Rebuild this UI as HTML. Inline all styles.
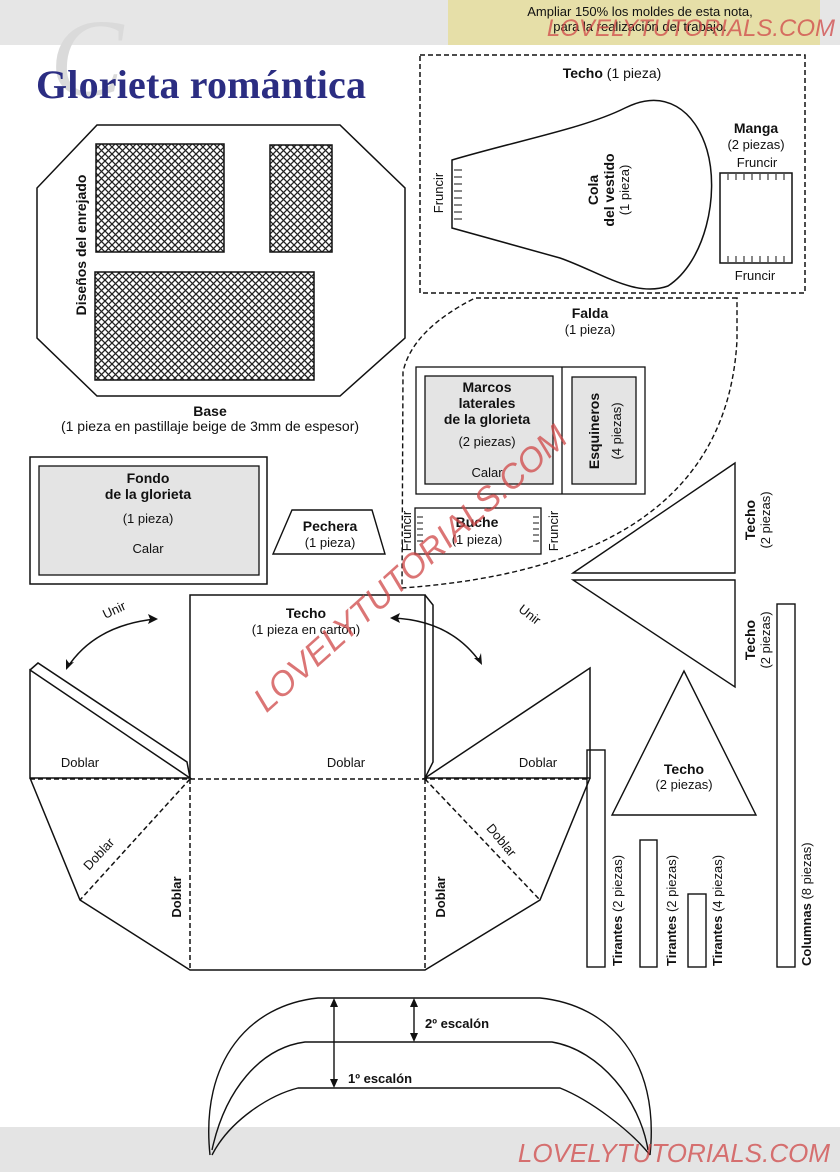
<!DOCTYPE html>
<html><head><meta charset="utf-8"><style>
html,body{margin:0;padding:0;background:#fff}
svg{display:block}
text{font-family:"Liberation Sans",Arial,sans-serif;fill:#111}
.b{font-weight:bold}
.wm{font-family:"Liberation Sans",sans-serif;font-style:italic;fill:#d04848;opacity:.75}
</style></head><body>
<svg width="840" height="1172" viewBox="0 0 840 1172" xmlns="http://www.w3.org/2000/svg">
<defs>
<pattern id="hx" width="7" height="7" patternUnits="userSpaceOnUse">
<rect width="7" height="7" fill="#fff"/>
<path d="M0,0L7,7M7,0L0,7" stroke="#222" stroke-width="1.3"/>
</pattern>
</defs>
<rect x="0" y="0" width="840" height="45" fill="#e6e6e6"/>
<rect x="448" y="0" width="372" height="45" fill="#e6dfa8"/>
<text x="640" y="16" font-size="13" text-anchor="middle">Ampliar 150% los moldes de esta nota,</text>
<text x="640" y="31" font-size="13" text-anchor="middle">para la realización del trabajo.</text>
<text x="835" y="36" font-size="24" text-anchor="end" class="wm">LOVELYTUTORIALS.COM</text>
<rect x="0" y="1127" width="840" height="45" fill="#e4e4e4"/>

<text x="50" y="95" font-size="110" style="fill:#dadada;font-family:'Liberation Serif',serif;font-style:italic">C</text>
<text x="36" y="98" font-size="40" class="b" style="font-family:'Liberation Serif',serif;fill:#2b2d82" textLength="330">Glorieta romántica</text>

<!-- Base -->
<polygon points="97,125 340,125 405,188 405,338 340,396 97,396 37,338 37,188" fill="none" stroke="#111" stroke-width="1.5"/>
<rect x="96" y="144" width="128" height="108" fill="url(#hx)" stroke="#111" stroke-width="1.5"/>
<rect x="270" y="145" width="62" height="107" fill="url(#hx)" stroke="#111" stroke-width="1.5"/>
<rect x="95" y="272" width="219" height="108" fill="url(#hx)" stroke="#111" stroke-width="1.5"/>
<text transform="translate(86,245) rotate(-90)" font-size="14" class="b" text-anchor="middle">Diseños del enrejado</text>
<text x="210" y="416" font-size="14" class="b" text-anchor="middle">Base</text>
<text x="210" y="431" font-size="14" text-anchor="middle">(1 pieza en pastillaje beige de 3mm de espesor)</text>

<!-- Top right dashed -->
<rect x="420" y="55" width="385" height="238" fill="none" stroke="#111" stroke-width="1.5" stroke-dasharray="5,3"/>
<text x="612" y="78" font-size="14" text-anchor="middle"><tspan class="b">Techo</tspan> (1 pieza)</text>
<path d="M452,160 C520,140 585,128 625,108 C665,88 695,110 707,150 C720,195 705,262 668,286 C635,298 600,272 560,258 L452,228 Z" fill="none" stroke="#111" stroke-width="1.5"/>
<path d="M454,170h8M454,177h8M454,184h8M454,191h8M454,198h8M454,205h8M454,212h8M454,219h8" stroke="#111"/>
<text transform="translate(443,193) rotate(-90)" font-size="13" text-anchor="middle">Fruncir</text>
<text transform="translate(598,190) rotate(-90)" font-size="14" class="b" text-anchor="middle">Cola</text>
<text transform="translate(614,190) rotate(-90)" font-size="14" class="b" text-anchor="middle">del vestido</text>
<text transform="translate(629,190) rotate(-90)" font-size="13" text-anchor="middle">(1 pieza)</text>
<rect x="720" y="173" width="72" height="90" fill="none" stroke="#111" stroke-width="1.5"/>
<path d="M728,174v6M736,174v6M744,174v6M752,174v6M760,174v6M768,174v6M776,174v6M784,174v6M728,256v6M736,256v6M744,256v6M752,256v6M760,256v6M768,256v6M776,256v6M784,256v6" stroke="#111"/>
<text x="756" y="133" font-size="14" class="b" text-anchor="middle">Manga</text>
<text x="756" y="149" font-size="13" text-anchor="middle">(2 piezas)</text>
<text x="757" y="167" font-size="13" text-anchor="middle">Fruncir</text>
<text x="755" y="280" font-size="13" text-anchor="middle">Fruncir</text>

<!-- Falda -->
<path d="M737,298 L475,298 Q412,330 403,372 L402,588 Q725,565 737,340 Z" fill="none" stroke="#111" stroke-width="1.4" stroke-dasharray="5,3"/>
<text x="590" y="318" font-size="14" class="b" text-anchor="middle">Falda</text>
<text x="590" y="334" font-size="13" text-anchor="middle">(1 pieza)</text>
<rect x="416" y="367" width="229" height="127" fill="#fff" stroke="#111" stroke-width="1.3"/>
<line x1="562" y1="367" x2="562" y2="494" stroke="#111" stroke-width="1.3"/>
<rect x="425" y="376" width="128" height="108" fill="#e4e4e4" stroke="#111" stroke-width="1.3"/>
<rect x="572" y="377" width="64" height="107" fill="#e4e4e4" stroke="#111" stroke-width="1.3"/>
<text x="487" y="392" font-size="14" class="b" text-anchor="middle">Marcos</text>
<text x="487" y="408" font-size="14" class="b" text-anchor="middle">laterales</text>
<text x="487" y="424" font-size="14" class="b" text-anchor="middle">de la glorieta</text>
<text x="487" y="446" font-size="13" text-anchor="middle">(2 piezas)</text>
<text x="487" y="477" font-size="13" text-anchor="middle">Calar</text>
<text transform="translate(599,431) rotate(-90)" font-size="14" class="b" text-anchor="middle">Esquineros</text>
<text transform="translate(621,431) rotate(-90)" font-size="13" text-anchor="middle">(4 piezas)</text>
<rect x="415" y="508" width="126" height="46" fill="#fff" stroke="#111" stroke-width="1.3"/>
<path d="M417,517h6M417,523h6M417,529h6M417,535h6M417,541h6M533,517h6M533,523h6M533,529h6M533,535h6M533,541h6" stroke="#111"/>
<text transform="translate(411,531) rotate(-90)" font-size="13" text-anchor="middle">Fruncir</text>
<text transform="translate(558,531) rotate(-90)" font-size="13" text-anchor="middle">Fruncir</text>
<text x="477" y="527" font-size="14" class="b" text-anchor="middle">Buche</text>
<text x="477" y="544" font-size="13" text-anchor="middle">(1 pieza)</text>

<!-- Fondo -->
<rect x="30" y="457" width="237" height="127" fill="#fff" stroke="#111" stroke-width="1.5"/>
<rect x="39" y="466" width="220" height="109" fill="#e4e4e4" stroke="#111" stroke-width="1.3"/>
<text x="148" y="483" font-size="14" class="b" text-anchor="middle">Fondo</text>
<text x="148" y="499" font-size="14" class="b" text-anchor="middle">de la glorieta</text>
<text x="148" y="523" font-size="13" text-anchor="middle">(1 pieza)</text>
<text x="148" y="553" font-size="13" text-anchor="middle">Calar</text>
<polygon points="273,554 385,554 372,510 292,510" fill="none" stroke="#111" stroke-width="1.4"/>
<text x="330" y="531" font-size="14" class="b" text-anchor="middle">Pechera</text>
<text x="330" y="547" font-size="13" text-anchor="middle">(1 pieza)</text>

<!-- right triangles -->
<polygon points="573,573 735,463 735,573" fill="none" stroke="#111" stroke-width="1.4"/>
<polygon points="573,580 735,580 735,687" fill="none" stroke="#111" stroke-width="1.4"/>
<text transform="translate(755,520) rotate(-90)" font-size="14" class="b" text-anchor="middle">Techo</text>
<text transform="translate(770,520) rotate(-90)" font-size="13" text-anchor="middle">(2 piezas)</text>
<text transform="translate(755,640) rotate(-90)" font-size="14" class="b" text-anchor="middle">Techo</text>
<text transform="translate(770,640) rotate(-90)" font-size="13" text-anchor="middle">(2 piezas)</text>
<polygon points="684,671 612,815 756,815" fill="none" stroke="#111" stroke-width="1.4"/>
<text x="684" y="774" font-size="14" class="b" text-anchor="middle">Techo</text>
<text x="684" y="789" font-size="13" text-anchor="middle">(2 piezas)</text>
<rect x="777" y="604" width="18" height="363" fill="none" stroke="#111" stroke-width="1.4"/>
<text transform="translate(811,966) rotate(-90)" font-size="13" ><tspan class="b">Columnas</tspan> (8 piezas)</text>
<rect x="587" y="750" width="18" height="217" fill="none" stroke="#111" stroke-width="1.4"/>
<rect x="640" y="840" width="17" height="127" fill="none" stroke="#111" stroke-width="1.4"/>
<rect x="688" y="894" width="18" height="73" fill="none" stroke="#111" stroke-width="1.4"/>
<text transform="translate(622,966) rotate(-90)" font-size="13"><tspan class="b">Tirantes</tspan> (2 piezas)</text>
<text transform="translate(676,966) rotate(-90)" font-size="13"><tspan class="b">Tirantes</tspan> (2 piezas)</text>
<text transform="translate(722,966) rotate(-90)" font-size="13"><tspan class="b">Tirantes</tspan> (4 piezas)</text>

<!-- Roof net -->
<g fill="none" stroke="#111" stroke-width="1.5">
<polyline points="190,778 190,595 425,595 425,778"/>
<polygon points="30,670 190,778 30,778"/>
<polyline points="30,670 38,663 187,762 190,778"/>
<polyline points="425,595 433,605 433,762 425,778"/>
<polygon points="425,778 590,668 590,778"/>
<polyline points="30,778 80,900 190,970 425,970 540,900 590,778"/>
</g>
<g fill="none" stroke="#111" stroke-width="1.5" stroke-dasharray="5,3">
<line x1="30" y1="779" x2="590" y2="779"/>
<line x1="190" y1="779" x2="190" y2="970"/>
<line x1="425" y1="779" x2="425" y2="970"/>
<line x1="190" y1="779" x2="80" y2="900"/>
<line x1="425" y1="779" x2="540" y2="900"/>
</g>
<text x="306" y="618" font-size="14" class="b" text-anchor="middle">Techo</text>
<text x="306" y="634" font-size="13" text-anchor="middle">(1 pieza en cartón)</text>
<text x="80" y="767" font-size="13" text-anchor="middle">Doblar</text>
<text x="346" y="767" font-size="13" text-anchor="middle">Doblar</text>
<text x="538" y="767" font-size="13" text-anchor="middle">Doblar</text>
<text transform="translate(102,857) rotate(-47)" font-size="13" text-anchor="middle">Doblar</text>
<text transform="translate(498,843) rotate(50)" font-size="13" text-anchor="middle">Doblar</text>
<text transform="translate(181,897) rotate(-90)" font-size="13" class="b" text-anchor="middle">Doblar</text>
<text transform="translate(445,897) rotate(-90)" font-size="13" class="b" text-anchor="middle">Doblar</text>
<path d="M67,668 Q95,625 156,619" fill="none" stroke="#111" stroke-width="1.5"/>
<path d="M158,619 l-10,-5 l2,5 l-2,5 z M66,670 l0,-11 l3,4 l5,-1 z" fill="#111"/>
<path d="M392,618 Q450,620 480,662" fill="none" stroke="#111" stroke-width="1.5"/>
<path d="M390,618 l10,-5 l-2,5 l2,5 z M482,665 l-8,-7 l5,0 l2,-5 z" fill="#111"/>
<text transform="translate(116,614) rotate(-25)" font-size="13" text-anchor="middle">Unir</text>
<text transform="translate(527,618) rotate(38)" font-size="13" text-anchor="middle">Unir</text>

<!-- Escalon -->
<g fill="none" stroke="#111" stroke-width="1.4">
<path d="M210,1155 C200,1060 250,1005 318,998 L540,998 C610,1005 660,1060 650,1155"/>
<path d="M212,1150 C225,1090 260,1048 305,1042 L552,1042 C600,1050 640,1100 648,1150"/>
<path d="M212,1155 C230,1120 270,1095 298,1088 L560,1088 C590,1100 630,1130 650,1155"/>
<line x1="334" y1="1003" x2="334" y2="1083"/>
<line x1="414" y1="1003" x2="414" y2="1037"/>
</g>
<path d="M334,998 l-4,9 h8 z M334,1088 l-4,-9 h8 z M414,998 l-4,9 h8 z M414,1042 l-4,-9 h8 z" fill="#111"/>
<text x="425" y="1028" font-size="13" class="b">2º escalón</text>
<text x="348" y="1083" font-size="13" class="b">1º escalón</text>

<text x="830" y="1162" font-size="26" text-anchor="end" class="wm">LOVELYTUTORIALS.COM</text>
<text transform="translate(418,577) rotate(-42)" font-size="34" text-anchor="middle" class="wm">LOVELYTUTORIALS.COM</text>
</svg>
</body></html>
